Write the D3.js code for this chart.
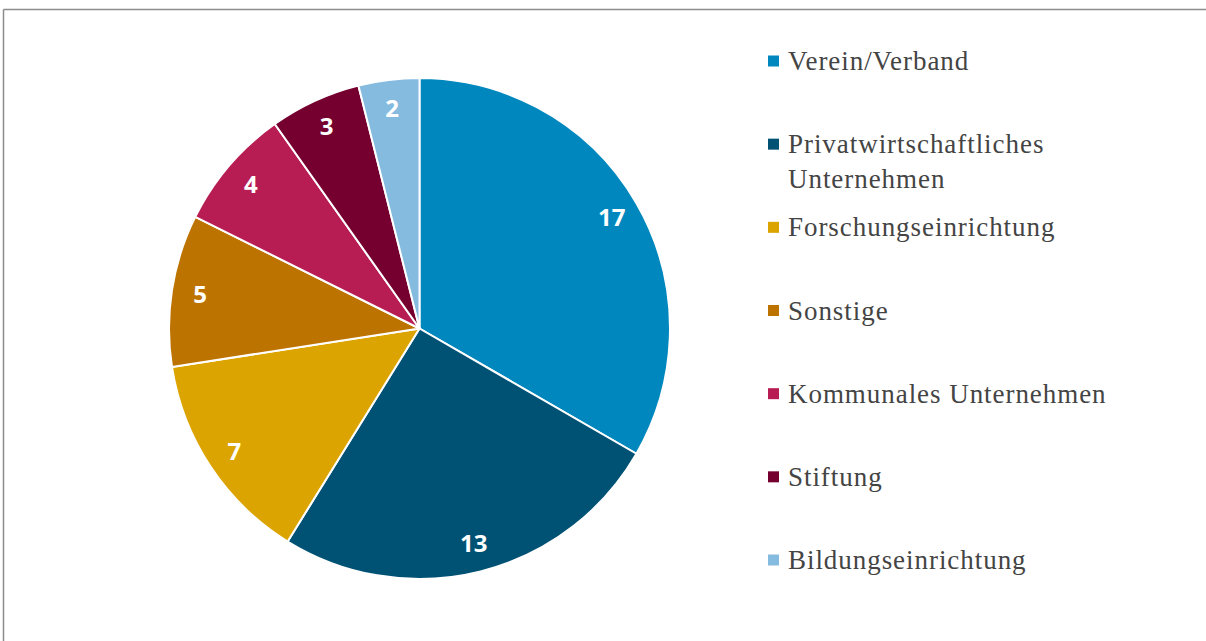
<!DOCTYPE html>
<html><head><meta charset="utf-8">
<script src="https://cdn.jsdelivr.net/npm/d3@7"></script>
<style>html,body{margin:0;padding:0;background:#fff;}svg{display:block;}</style>
</head><body>
<svg id="chart" width="1206" height="641"></svg>
<script>
const categories = ["Verein/Verband","Privatwirtschaftliches Unternehmen","Forschungseinrichtung","Sonstige","Kommunales Unternehmen","Stiftung","Bildungseinrichtung"];
const values = [17,13,7,5,4,3,2];
const colors = ["#0088be","#005275","#dca400","#bd7300","#b71c53","#750030","#86bbe0"];
const legendLines = [["Verein/Verband"],["Privatwirtschaftliches","Unternehmen"],["Forschungseinrichtung"],["Sonstige"],["Kommunales Unternehmen"],["Stiftung"],["Bildungseinrichtung"]];

const svg = d3.select("#chart");
// frame
svg.append("line").attr("x1",3.5).attr("x2",1206).attr("y1",9.5).attr("y2",9.5).attr("stroke","#8c8c8c").attr("stroke-width",1.5);
svg.append("line").attr("x1",3.5).attr("x2",3.5).attr("y1",9.5).attr("y2",641).attr("stroke","#8c8c8c").attr("stroke-width",1.5);

const cx = 419.5, cy = 328.5, R = 250.5;
const data = categories.map((c,i)=>({cat:c,value:values[i],color:colors[i]}));
const pie = d3.pie().value(d=>d.value).sort(null);
const arcs = pie(data);
const arc = d3.arc().innerRadius(0).outerRadius(R);
const labelArc = d3.arc().innerRadius(222).outerRadius(222);
const g = svg.append("g").attr("transform",`translate(${cx},${cy})`);
g.selectAll("path").data(arcs).join("path")
  .attr("d",arc).attr("fill",d=>d.data.color)
  .attr("stroke","#fff").attr("stroke-width",2).attr("stroke-linejoin","round");
g.selectAll("text").data(arcs).join("text")
  .attr("transform",d=>`translate(${labelArc.centroid(d)})`)
  .attr("text-anchor","middle").attr("dy","0.36em")
  .attr("font-family","'Open Sans', sans-serif").attr("font-weight","bold")
  .attr("font-size",24).attr("fill","#fff")
  .text(d=>d.data.value);

const ly = d3.scalePoint().domain(categories).range([61,560]);
const lg = svg.append("g");
categories.forEach((c,i)=>{
  const y = ly(c);
  lg.append("rect").attr("x",768).attr("y",y-5.5).attr("width",11).attr("height",11).attr("fill",colors[i]);
  const t = lg.append("text").attr("x",788).attr("y",y+9)
    .attr("font-family","'Liberation Serif', serif").attr("font-size",27)
    .attr("letter-spacing",0.95).attr("fill","#444");
  legendLines[i].forEach((ln,j)=>{
    t.append("tspan").attr("x",788).attr("dy", j===0?0:35).text(ln);
  });
});
</script>
</body></html>
